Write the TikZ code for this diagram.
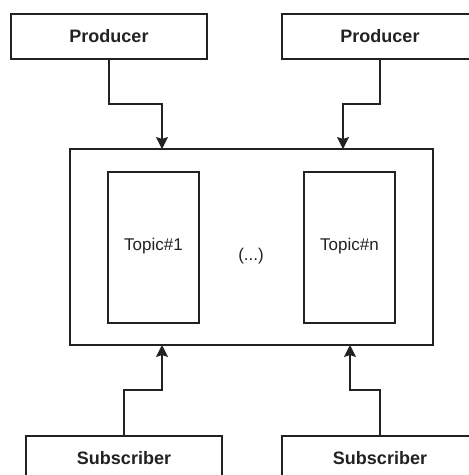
\documentclass[tikz,border=0pt]{standalone}
\usepackage{fontspec}
\setmainfont{Liberation Sans}
\usetikzlibrary{arrows.meta}
\definecolor{linecol}{HTML}{222222}
\definecolor{textcol}{HTML}{222222}
\begin{document}
\begin{tikzpicture}[x=1pt,y=-1pt,
  box/.style={draw=linecol,line width=1.5pt,rectangle,inner sep=0pt,fill=white,text=textcol},
  endpoint/.style={box,minimum width=196pt,minimum height=45pt,
    font=\fontsize{18}{20}\selectfont\bfseries},
  topicbox/.style={box,minimum width=91pt,minimum height=151pt,
    font=\fontsize{17}{20}\selectfont},
  link/.style={draw=linecol,line width=1.5pt,
    -{Stealth[length=12pt,width=12pt,inset=2pt]}}]
\useasboundingbox (0,0) rectangle (469,475);
\clip (0,0) rectangle (469,475);

% broker with its topics
\node[box,minimum width=363pt,minimum height=196pt] (broker) at (251.5,247) {};
\node[topicbox] (t1) at (153.5,247.5) {\raisebox{7pt}{Topic\#1}};
\node[topicbox] (tn) at (349.5,247.5) {\raisebox{7pt}{Topic\#n}};
\node[font=\fontsize{17}{20}\selectfont,text=textcol] (dots) at (251,256) {(...)};

% producers
\node[endpoint] (p1) at (109,36.5) {Producer};
\node[endpoint] (p2) at (380,36.5) {Producer};

% subscribers
\node[endpoint] (s1) at (124,458.5) {Subscriber};
\node[endpoint] (s2) at (380,458.5) {Subscriber};

% connectors
\coordinate (a1) at (162,149);
\coordinate (a2) at (343,149);
\coordinate (b1) at (162,345);
\coordinate (b2) at (350,345);
\draw[link] (p1.south) |- (162,104) -- (a1);
\draw[link] (p2.south) |- (343,104) -- (a2);
\draw[link] (s1.north) |- (162,390) -- (b1);
\draw[link] (s2.north) |- (350,390) -- (b2);
\end{tikzpicture}
\end{document}
